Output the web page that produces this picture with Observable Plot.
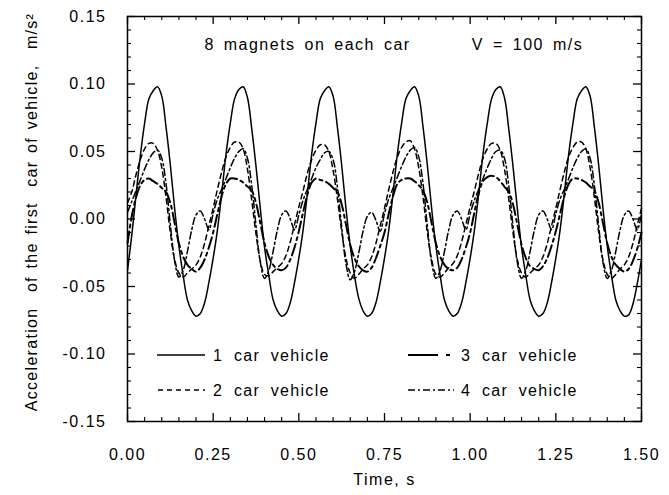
<!DOCTYPE html>
<html>
<head>
<meta charset="utf-8">
<script src="https://cdn.jsdelivr.net/npm/d3@7"></script>
<script src="https://cdn.jsdelivr.net/npm/@observablehq/plot@0.6"></script>
<style>
  html, body { margin: 0; padding: 0; background: #fff; }
  #wrap { position: relative; width: 669px; height: 495px; }
  #wrap svg { font-family: "Liberation Sans", Arial, Helvetica, sans-serif; }
  #overlay { position: absolute; left: 0; top: 0; pointer-events: none; }
  .tick-lab text { letter-spacing: 1.5px; }
  .wide text { letter-spacing: 1.5px; word-spacing: 3px; }
  .ytitle text { letter-spacing: 1.3px; word-spacing: 2px; white-space: pre; }
</style>
</head>
<body>
<div id="wrap"></div>
<script>
// ---- data ----
const time = [
0,0.0125,0.025,0.0375,0.05,0.0625,0.075,0.0875,0.1,0.1125,0.125,0.1375,0.15,0.1625,0.175,0.1875,0.2,0.2125,0.225,0.2375,
0.25,0.2625,0.275,0.2875,0.3,0.3125,0.325,0.3375,0.35,0.3625,0.375,0.3875,0.4,0.4125,0.425,0.4375,0.45,0.4625,0.475,0.4875,
0.5,0.5125,0.525,0.5375,0.55,0.5625,0.575,0.5875,0.6,0.6125,0.625,0.6375,0.65,0.6625,0.675,0.6875,0.7,0.7125,0.725,0.7375,
0.75,0.7625,0.775,0.7875,0.8,0.8125,0.825,0.8375,0.85,0.8625,0.875,0.8875,0.9,0.9125,0.925,0.9375,0.95,0.9625,0.975,0.9875,
1,1.0125,1.025,1.0375,1.05,1.0625,1.075,1.0875,1.1,1.1125,1.125,1.1375,1.15,1.1625,1.175,1.1875,1.2,1.2125,1.225,1.2375,
1.25,1.2625,1.275,1.2875,1.3,1.3125,1.325,1.3375,1.35,1.3625,1.375,1.3875,1.4,1.4125,1.425,1.4375,1.45,1.4625,1.475,1.4875,
1.5];

const car1 = [
-0.038,-0.012,0.018,0.047,0.071,0.089,0.095,0.098,0.091,0.068,0.040,0.008,-0.020,-0.042,-0.060,-0.068,-0.072,-0.070,-0.062,-0.047,
-0.029,-0.008,0.019,0.048,0.071,0.089,0.096,0.098,0.090,0.067,0.039,0.008,-0.021,-0.042,-0.060,-0.068,-0.072,-0.070,-0.062,-0.047,
-0.029,-0.008,0.019,0.048,0.071,0.089,0.095,0.098,0.091,0.068,0.040,0.008,-0.020,-0.042,-0.059,-0.068,-0.072,-0.070,-0.062,-0.047,
-0.029,-0.008,0.019,0.048,0.071,0.089,0.095,0.098,0.091,0.068,0.040,0.008,-0.020,-0.042,-0.060,-0.068,-0.072,-0.070,-0.062,-0.047,
-0.029,-0.008,0.019,0.048,0.071,0.089,0.096,0.098,0.090,0.067,0.039,0.008,-0.021,-0.042,-0.060,-0.068,-0.072,-0.070,-0.062,-0.047,
-0.029,-0.008,0.019,0.048,0.071,0.089,0.095,0.098,0.091,0.068,0.040,0.008,-0.020,-0.042,-0.060,-0.068,-0.072,-0.071,-0.063,-0.048,
-0.030];

const car2 = [
0.012,0.020,0.033,0.044,0.052,0.056,0.056,0.051,0.038,0.016,-0.010,-0.030,-0.040,-0.043,-0.040,-0.037,-0.034,-0.028,-0.018,-0.005,
0.008,0.022,0.035,0.046,0.053,0.057,0.057,0.052,0.037,0.014,-0.011,-0.031,-0.041,-0.042,-0.039,-0.036,-0.033,-0.027,-0.017,-0.004,
0.009,0.021,0.034,0.044,0.051,0.055,0.055,0.050,0.036,0.015,-0.009,-0.029,-0.040,-0.044,-0.041,-0.037,-0.034,-0.028,-0.018,-0.005,
0.008,0.022,0.035,0.046,0.053,0.057,0.058,0.052,0.038,0.016,-0.010,-0.030,-0.041,-0.043,-0.040,-0.036,-0.033,-0.027,-0.017,-0.004,
0.009,0.021,0.034,0.045,0.052,0.056,0.056,0.051,0.037,0.015,-0.010,-0.030,-0.040,-0.043,-0.040,-0.037,-0.034,-0.028,-0.018,-0.005,
0.008,0.022,0.035,0.046,0.053,0.057,0.057,0.052,0.038,0.016,-0.010,-0.030,-0.041,-0.044,-0.041,-0.037,-0.034,-0.028,-0.018,-0.005,
0.008];

const car3 = [
-0.018,0.002,0.016,0.025,0.029,0.030,0.028,0.026,0.023,0.020,0.012,-0.003,-0.018,-0.028,-0.034,-0.037,-0.039,-0.036,-0.030,-0.021,
-0.010,0.004,0.017,0.026,0.030,0.030,0.029,0.027,0.024,0.021,0.012,-0.003,-0.018,-0.028,-0.034,-0.037,-0.038,-0.036,-0.030,-0.021,
-0.009,0.005,0.018,0.027,0.030,0.029,0.028,0.026,0.023,0.020,0.011,-0.004,-0.019,-0.029,-0.035,-0.038,-0.039,-0.036,-0.029,-0.020,
-0.010,0.004,0.017,0.026,0.029,0.030,0.030,0.028,0.025,0.021,0.012,-0.003,-0.018,-0.028,-0.034,-0.037,-0.038,-0.036,-0.030,-0.021,
-0.010,0.005,0.019,0.028,0.031,0.032,0.031,0.028,0.024,0.020,0.011,-0.004,-0.019,-0.029,-0.035,-0.037,-0.038,-0.035,-0.029,-0.020,
-0.009,0.004,0.017,0.026,0.030,0.030,0.029,0.027,0.024,0.021,0.012,-0.003,-0.018,-0.028,-0.034,-0.037,-0.039,-0.037,-0.031,-0.022,
-0.010];

const car4 = [
0.005,0.013,0.021,0.029,0.037,0.044,0.049,0.051,0.045,0.026,-0.004,-0.031,-0.043,-0.038,-0.024,-0.008,0.003,0.006,0.000,-0.008,
0.004,0.015,0.022,0.030,0.038,0.045,0.050,0.052,0.045,0.025,-0.005,-0.032,-0.044,-0.038,-0.024,-0.008,0.003,0.006,0.000,-0.008,
0.003,0.014,0.022,0.030,0.038,0.044,0.049,0.050,0.044,0.024,-0.006,-0.033,-0.045,-0.039,-0.025,-0.009,0.002,0.005,-0.001,-0.009,
0.004,0.015,0.023,0.031,0.039,0.046,0.051,0.053,0.046,0.026,-0.005,-0.032,-0.044,-0.038,-0.024,-0.008,0.003,0.006,0.000,-0.008,
0.004,0.014,0.022,0.030,0.038,0.045,0.050,0.051,0.045,0.025,-0.005,-0.032,-0.044,-0.038,-0.024,-0.008,0.003,0.006,0.000,-0.008,
0.004,0.015,0.022,0.030,0.038,0.045,0.050,0.052,0.045,0.025,-0.005,-0.032,-0.044,-0.038,-0.024,-0.008,0.003,0.006,0.000,-0.008,
0.004];

const xTicks = [0, 0.25, 0.5, 0.75, 1.0, 1.25, 1.5];
const xMinor = [0.05,0.1,0.15,0.2,0.3,0.35,0.4,0.45,0.55,0.6,0.65,0.7,0.8,0.85,0.9,0.95,1.05,1.1,1.15,1.2,1.3,1.35,1.4,1.45];
const yTicks = [-0.15, -0.10, -0.05, 0.00, 0.05, 0.10, 0.15];
const yMinor = [-0.14,-0.13,-0.12,-0.11,-0.09,-0.08,-0.07,-0.06,-0.04,-0.03,-0.02,-0.01,0.01,0.02,0.03,0.04,0.06,0.07,0.08,0.09,0.11,0.12,0.13,0.14];

const seriesNames = ["1 car vehicle", "2 car vehicle", "3 car vehicle", "4 car vehicle"];
const xTitle = "Time, s";
const yTitle = "Acceleration  of the first  car of vehicle,  m/s\u00B2";
const note1 = "8 magnets on each car";
const note2 = "V = 100 m/s";

// ---- layout ----
const W = 669, H = 495;
const mL = 127, mR = 28, mT = 16, mB = 74;
const fw = W - mL - mR, fh = H - mT - mB;
const MAJ = 8, MIN = 4;

const rows = (vals) => time.map((t, i) => ({t, v: vals[i]}));
const styles = [
  {dash: null, w: 1.5},
  {dash: "5,4", w: 1.5},
  {dash: "12,4,3,4", w: 2},
  {dash: "7,3,2,3", w: 1.5}
];
const allSeries = [car1, car2, car3, car4];

const fmt = d => d.toFixed(2);

const plot = Plot.plot({
  width: W, height: H,
  marginLeft: mL, marginRight: mR, marginTop: mT, marginBottom: mB,
  x: {domain: [0, 1.5]},
  y: {domain: [-0.15, 0.15]},
  style: {fontFamily: "'Liberation Sans', Arial, Helvetica, sans-serif", fontSize: "16px", color: "#000", background: "#fff"},
  marks: [
    // series
    ...allSeries.map((vals, k) => Plot.line(rows(vals), {
      x: "t", y: "v", stroke: "#000", strokeWidth: styles[k].w,
      strokeDasharray: styles[k].dash, curve: "catmull-rom"
    })),
    // inward ticks: left/right
    Plot.tickY(yTicks, {y: d => d, insetRight: fw - MAJ, stroke: "#000", strokeWidth: 1.3}),
    Plot.tickY(yMinor, {y: d => d, insetRight: fw - MIN, stroke: "#000", strokeWidth: 1.1}),
    Plot.tickY(yTicks, {y: d => d, insetLeft: fw - MAJ, stroke: "#000", strokeWidth: 1.3}),
    Plot.tickY(yMinor, {y: d => d, insetLeft: fw - MIN, stroke: "#000", strokeWidth: 1.1}),
    // inward ticks: bottom/top
    Plot.tickX(xTicks, {x: d => d, insetTop: fh - MAJ, stroke: "#000", strokeWidth: 1.3}),
    Plot.tickX(xMinor, {x: d => d, insetTop: fh - MIN, stroke: "#000", strokeWidth: 1.1}),
    Plot.tickX(xTicks, {x: d => d, insetBottom: fh - MAJ, stroke: "#000", strokeWidth: 1.3}),
    Plot.tickX(xMinor, {x: d => d, insetBottom: fh - MIN, stroke: "#000", strokeWidth: 1.1}),
    Plot.frame({stroke: "#000", strokeWidth: 1.5}),
    // axes labels
    Plot.axisX(xTicks, {tickSize: 0, tickPadding: 27, tickFormat: fmt, fontSize: 16, label: null, className: "tick-lab"}),
    Plot.axisY(yTicks, {tickSize: 0, tickPadding: 21, tickFormat: fmt, fontSize: 16, label: null, className: "tick-lab"}),
    Plot.text([xTitle], {frameAnchor: "bottom", dy: 63, fontSize: 16, fill: "#000", className: "tick-lab"}),
    Plot.text([yTitle], {frameAnchor: "left", textAnchor: "middle", lineAnchor: "middle", dx: -96, dy: -7, rotate: -90, fontSize: 16, fill: "#000", className: "ytitle"}),
    Plot.text([note1], {frameAnchor: "top-left", textAnchor: "middle", lineAnchor: "middle", dx: 180, dy: 28, fontSize: 16, fill: "#000", className: "wide"}),
    Plot.text([note2], {frameAnchor: "top-left", textAnchor: "middle", lineAnchor: "middle", dx: 400, dy: 28, fontSize: 16, fill: "#000", className: "wide"})
  ]
});

const wrap = document.getElementById("wrap");
wrap.appendChild(plot);

// ---- legend overlay ----
const ov = d3.select(wrap).append("svg")
  .attr("id", "overlay").attr("width", W).attr("height", H);
const legendItems = [
  {k: 0, x0: 157, x1: 205, tx: 213, y: 355},
  {k: 1, x0: 158, x1: 205, tx: 213, y: 390},
  {k: 2, x0: 408, x1: 452, tx: 461, y: 355},
  {k: 3, x0: 408, x1: 454, tx: 461, y: 390}
];
legendItems.forEach(it => {
  ov.append("line")
    .attr("x1", it.x0).attr("x2", it.x1).attr("y1", it.y).attr("y2", it.y)
    .attr("stroke", "#000").attr("stroke-width", styles[it.k].w)
    .attr("stroke-dasharray", it.k === 2 ? "30,8,4,40" : styles[it.k].dash);
  ov.append("text")
    .attr("x", it.tx).attr("y", it.y).attr("dy", "0.36em")
    .attr("font-size", 16).attr("letter-spacing", "1.3px").attr("word-spacing", "5px")
    .attr("fill", "#000")
    .text(seriesNames[it.k]);
});
</script>
</body>
</html>
